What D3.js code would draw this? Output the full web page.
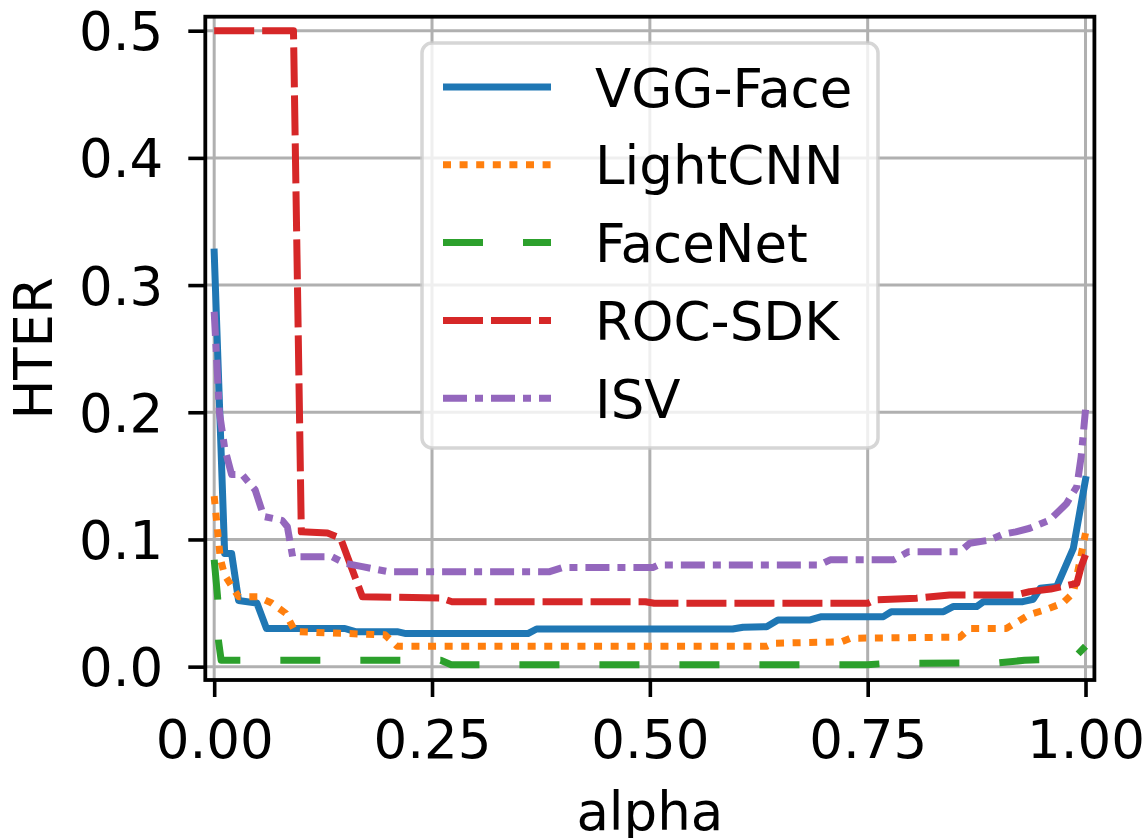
<!DOCTYPE html>
<html>
<head>
<meta charset="utf-8">
<script src="https://cdn.jsdelivr.net/npm/d3@7"></script>
<style>
  html, body { margin: 0; padding: 0; background: #ffffff; }
  svg { display: block; }
  text { font-family: "DejaVu Sans", sans-serif; fill: #000; }
</style>
</head>
<body>
<svg id="chart" width="1148" height="838"></svg>
<script>
// ---------------- data ----------------
const seriesNames = ["VGG-Face", "LightCNN", "FaceNet", "ROC-SDK", "ISV"];
const seriesColors = ["#1f77b4", "#ff7f0e", "#2ca02c", "#d62728", "#9467bd"];
const xTicks = [0, 0.25, 0.5, 0.75, 1.0];
const yTicks = [0.0, 0.1, 0.2, 0.3, 0.4, 0.5];
const xLabel = "alpha";
const yLabel = "HTER";

// [alpha, HTER] points
const vggFace = [
  [0, 0.326], [0.012, 0.089], [0.02, 0.089], [0.028, 0.052], [0.049, 0.050],
  [0.06, 0.030], [0.15, 0.030], [0.162, 0.0275], [0.21, 0.0275], [0.22, 0.026],
  [0.36, 0.026], [0.37, 0.0296], [0.595, 0.0296], [0.607, 0.031], [0.634, 0.0314],
  [0.647, 0.0367], [0.684, 0.0367], [0.697, 0.0393], [0.768, 0.0393], [0.777, 0.0432],
  [0.837, 0.0432], [0.848, 0.0472], [0.875, 0.0472], [0.883, 0.0511], [0.928, 0.0511],
  [0.94, 0.053], [0.948, 0.0616], [0.967, 0.063], [0.986, 0.093], [1.0, 0.147]
];
const lightCNN = [
  [0, 0.134], [0.007, 0.085], [0.012, 0.072], [0.028, 0.055], [0.05, 0.055],
  [0.066, 0.050], [0.082, 0.042], [0.093, 0.0275], [0.196, 0.025], [0.21, 0.016],
  [0.634, 0.016], [0.642, 0.0184], [0.72, 0.0195], [0.73, 0.0223], [0.856, 0.0232],
  [0.867, 0.030], [0.909, 0.030], [0.936, 0.041], [0.955, 0.045], [0.974, 0.050],
  [0.986, 0.058], [0.993, 0.081], [1.0, 0.105]
];
const faceNet = [
  [0, 0.084], [0.004, 0.054], [0.005, 0.02], [0.008, 0.005], [0.26, 0.005],
  [0.272, 0.0015], [0.75, 0.0015], [0.77, 0.0025], [0.9, 0.003], [0.93, 0.005],
  [0.975, 0.006], [0.99, 0.009], [1.0, 0.016]
];
const rocSdk = [
  [0, 0.5], [0.091, 0.5], [0.1, 0.106], [0.13, 0.105], [0.145, 0.101],
  [0.17, 0.055], [0.26, 0.054], [0.273, 0.051], [0.495, 0.051], [0.505, 0.0498],
  [0.75, 0.0498], [0.758, 0.0524], [0.806, 0.0538], [0.844, 0.0564], [0.921, 0.0564],
  [0.936, 0.059], [0.96, 0.061], [0.99, 0.0655], [0.995, 0.0786], [1.0, 0.088]
];
const isv = [
  [0, 0.279], [0.006, 0.2], [0.012, 0.172], [0.02, 0.151], [0.032, 0.151],
  [0.047, 0.139], [0.057, 0.118], [0.078, 0.115], [0.084, 0.11], [0.09, 0.0865],
  [0.135, 0.0865], [0.15, 0.0813], [0.17, 0.0786], [0.2, 0.0747], [0.385, 0.0747],
  [0.40, 0.078], [0.504, 0.078], [0.51, 0.080], [0.695, 0.080], [0.707, 0.084],
  [0.78, 0.084], [0.797, 0.0904], [0.856, 0.0904], [0.867, 0.097], [0.89, 0.0995],
  [0.905, 0.104], [0.92, 0.106], [0.936, 0.1088], [0.959, 0.1153], [0.978, 0.128],
  [0.99, 0.1415], [0.995, 0.165], [1.0, 0.202]
];
const seriesData = [vggFace, lightCNN, faceNet, rocSdk, isv];

// ---------------- styles ----------------
const dashes = [null, "8,8.6", "40,40", "40,8", "24,8,8,8"];
const LW = 7;
const FONT = 53;

const svg = d3.select("#chart");
const plot = { left: 205.3, right: 1094.4, top: 16.7, bottom: 680 };

const x = d3.scaleLinear().domain([-0.0102, 1.0102]).range([plot.left, plot.right]);
const y = d3.scaleLinear().domain([-0.0105, 0.511]).range([plot.bottom, plot.top]);

svg.append("rect").attr("width", 1148).attr("height", 838).attr("fill", "#fff");

// grid
const grid = svg.append("g");
grid.selectAll("line.gx").data(xTicks).enter().append("line")
  .attr("x1", d => x(d)).attr("x2", d => x(d))
  .attr("y1", plot.top).attr("y2", plot.bottom)
  .attr("stroke", "#b0b0b0").attr("stroke-width", 3);
grid.selectAll("line.gy").data(yTicks).enter().append("line")
  .attr("x1", plot.left).attr("x2", plot.right)
  .attr("y1", d => y(d)).attr("y2", d => y(d))
  .attr("stroke", "#b0b0b0").attr("stroke-width", 3);

// clip
svg.append("clipPath").attr("id", "clip").append("rect")
  .attr("x", plot.left).attr("y", plot.top)
  .attr("width", plot.right - plot.left).attr("height", plot.bottom - plot.top);

const line = d3.line().x(d => x(d[0])).y(d => y(d[1]));
const lines = svg.append("g").attr("clip-path", "url(#clip)");
seriesData.forEach((data, i) => {
  lines.append("path")
    .datum(data)
    .attr("d", line)
    .attr("fill", "none")
    .attr("stroke", seriesColors[i])
    .attr("stroke-width", LW)
    .attr("stroke-linejoin", "round")
    .attr("stroke-linecap", i === 0 ? "square" : "butt")
    .attr("stroke-dasharray", dashes[i]);
});

// axes
const xAxis = d3.axisBottom(x).tickValues(xTicks).tickSize(17).tickFormat(d3.format(".2f"));
const gx = svg.append("g").attr("transform", `translate(0,${plot.bottom})`).call(xAxis);
gx.select(".domain").remove();
gx.selectAll(".tick line").attr("stroke", "#000").attr("stroke-width", 3.6);
gx.selectAll(".tick text").attr("y", 78).attr("dy", null)
  .style("font-size", FONT + "px").style("font-family", "DejaVu Sans").attr("fill", "#000");

const yAxis = d3.axisLeft(y).tickValues(yTicks).tickSize(17).tickFormat(d3.format(".1f"));
const gy = svg.append("g").attr("transform", `translate(${plot.left},0)`).call(yAxis);
gy.select(".domain").remove();
gy.selectAll(".tick line").attr("stroke", "#000").attr("stroke-width", 3.6);
gy.selectAll(".tick text").attr("x", -42).attr("y", 19).attr("dy", null)
  .style("font-size", FONT + "px").style("font-family", "DejaVu Sans").attr("fill", "#000");

// spines
svg.append("rect")
  .attr("x", plot.left).attr("y", plot.top)
  .attr("width", plot.right - plot.left).attr("height", plot.bottom - plot.top)
  .attr("fill", "none").attr("stroke", "#000").attr("stroke-width", 3.8);

// axis labels
svg.append("text").attr("x", (plot.left + plot.right) / 2).attr("y", 830)
  .attr("text-anchor", "middle").style("font-size", FONT + "px").text(xLabel);
svg.append("text").attr("transform", `translate(52,${(plot.top + plot.bottom) / 2}) rotate(-90)`)
  .attr("text-anchor", "middle").style("font-size", FONT + "px").text(yLabel);

// legend
const leg = svg.append("g");
leg.append("rect")
  .attr("x", 422).attr("y", 43).attr("width", 456).attr("height", 405)
  .attr("rx", 10).attr("ry", 10)
  .attr("fill", "#fff").attr("fill-opacity", 0.8)
  .attr("stroke", "#cccccc").attr("stroke-opacity", 0.8).attr("stroke-width", 3.5);
seriesNames.forEach((name, i) => {
  const ry = 87 + i * 77.8;
  leg.append("line")
    .attr("x1", 443).attr("x2", 551).attr("y1", ry).attr("y2", ry)
    .attr("stroke", seriesColors[i]).attr("stroke-width", LW)
    .attr("stroke-linecap", "butt")
    .attr("stroke-dasharray", dashes[i]);
  leg.append("text").attr("x", 595).attr("y", ry + 19.5)
    .style("font-size", FONT + "px").text(name);
});
</script>
</body>
</html>
